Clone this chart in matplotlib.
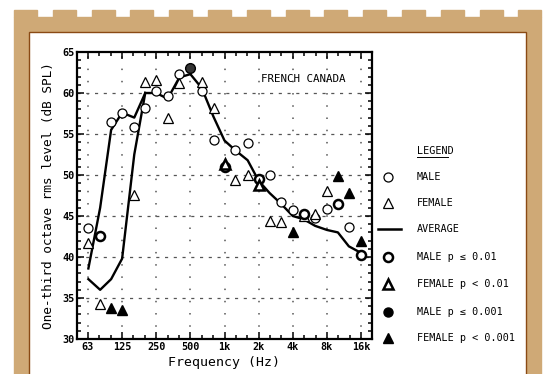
import matplotlib
matplotlib.use("Agg")
import matplotlib.pyplot as plt
from matplotlib.patches import Rectangle
from matplotlib.lines import Line2D
from matplotlib.ticker import FixedLocator, NullFormatter

plt.rcParams["font.family"] = ["DejaVu Sans Mono", "DejaVu Sans"]

# octave band labels
octave_freqs = [62.5, 125, 250, 500, 1000, 2000, 4000, 8000, 16000]
octave_labels = ["63", "125", "250", "500", "1k", "2k", "4k", "8k", "16k"]

# average spectra; the two curves split below 200 Hz
avg_freqs = [200, 250, 315, 400, 500, 630, 800, 1000, 1250, 1600, 2000,
             2500, 3150, 4000, 5000, 6300, 8000, 10000, 12500, 16000]
avg_levels = [60.0, 60.0, 59.3, 61.9, 62.3, 60.6, 57.1, 54.2, 53.0, 51.8, 49.3,
              47.8, 46.5, 45.0, 44.6, 43.8, 43.3, 43.0, 41.3, 40.5]
avg_male_low_freqs = [63, 80, 100, 125, 160, 200]
avg_male_low = [38.6, 46.0, 55.5, 57.6, 57.0, 60.0]
avg_female_low_freqs = [63, 80, 100, 125, 160, 200]
avg_female_low = [37.3, 36.0, 37.3, 39.8, 52.5, 60.0]

# individual band levels
male_freqs = [63, 100, 125, 160, 200, 250, 315, 400, 630, 800, 1250, 1600,
              2500, 3150, 4000, 6300, 8000, 12500]
male_levels = [43.5, 56.5, 57.6, 55.9, 58.2, 60.2, 59.6, 62.3, 60.3, 54.3, 53.0,
               53.9, 50.0, 46.7, 45.7, 44.8, 45.9, 43.6]
female_freqs = [63, 80, 160, 200, 250, 315, 400, 630, 800, 1250, 1600, 2500,
                3150, 5000, 6300, 8000]
female_levels = [41.7, 34.3, 47.6, 61.3, 61.6, 56.9, 61.2, 61.4, 58.2, 49.4, 50.0,
                 44.4, 44.3, 45.0, 45.3, 48.0]
male_p01_freqs = [80, 1000, 2000, 5000, 10000, 16000]
male_p01_levels = [42.6, 51.0, 49.5, 45.3, 46.5, 40.2]
female_p01_freqs = [1000, 2000]
female_p01_levels = [51.4, 48.8]
male_p001_freqs = [500]
male_p001_levels = [63.0]
female_p001_freqs = [100, 125, 4000, 10000, 12500, 16000]
female_p001_levels = [33.8, 33.5, 43.1, 49.9, 47.8, 42.0]

W, H = 546, 374
fig = plt.figure(figsize=(W / 100, H / 100), dpi=100)


def fx(px):
    return px / W


def fy(py):
    return 1 - py / H


tan = "#cfa976"
edge = "#8a4a14"

# paper frame with a notched top edge
fig.patches.append(Rectangle((fx(14), 0), fx(541) - fx(14), fy(17),
                             transform=fig.transFigure, color=tan, zorder=-3))
for k in range(14):
    x0 = 14 + k * 38.8
    fig.patches.append(Rectangle((fx(x0), fy(17)), fx(23), fy(10) - fy(17),
                                 transform=fig.transFigure, color=tan, zorder=-3))
fig.patches.append(Rectangle((fx(29), -0.01), fx(526) - fx(29), fy(32) + 0.01,
                             transform=fig.transFigure, facecolor="white",
                             edgecolor=edge, linewidth=1.0, zorder=-2))

ax = fig.add_axes([fx(77), fy(339), fx(372) - fx(77), fy(52) - fy(339)])
ax.set_zorder(2)
ax.set_facecolor("none")
ax.set_xscale("log", base=2)
ax.set_xlim(50, 20000)
ax.set_ylim(30, 65)

third_octaves = [1000 * 2 ** (n / 3) for n in range(-13, 14)]
ax.xaxis.set_major_locator(FixedLocator(octave_freqs))
ax.xaxis.set_minor_locator(FixedLocator(third_octaves))
ax.xaxis.set_minor_formatter(NullFormatter())
ax.set_xticklabels(octave_labels, fontsize=7.3, fontweight="bold")
ax.set_yticks(range(30, 66, 5))
ax.set_yticks(range(30, 66), minor=True)
ax.set_yticklabels([str(v) for v in range(30, 66, 5)], fontsize=7.3, fontweight="bold")
ax.tick_params(which="both", direction="in", top=True, right=True, width=1.1)
ax.tick_params(which="major", length=5, pad=2)
ax.tick_params(which="minor", length=3)
for s in ax.spines.values():
    s.set_linewidth(1.6)

for v in range(35, 65, 5):
    ax.axhline(v, color="#555555", lw=0.9, ls=(0, (2.5, 4.5)), zorder=1)
for f in octave_freqs:
    ax.axvline(f, color="#555555", lw=1.1, ls=(0, (1, 7)), zorder=1)

ax.plot(avg_freqs, avg_levels, color="black", lw=1.7, zorder=3)
ax.plot(avg_male_low_freqs, avg_male_low, color="black", lw=1.7, zorder=3)
ax.plot(avg_female_low_freqs, avg_female_low, color="black", lw=1.7, zorder=3)

ax.plot(male_freqs, male_levels, ls="none", marker="o", ms=6.5, mfc="white",
        mec="black", mew=0.9, zorder=4)
ax.plot(female_freqs, female_levels, ls="none", marker="^", ms=7, mfc="white",
        mec="black", mew=0.9, zorder=4)
ax.plot(male_p01_freqs, male_p01_levels, ls="none", marker="o", ms=6.5, mfc="white",
        mec="black", mew=1.8, zorder=5)
ax.plot(female_p01_freqs, female_p01_levels, ls="none", marker="^", ms=7, mfc="white",
        mec="black", mew=1.8, zorder=5)
ax.plot(male_p001_freqs, male_p001_levels, ls="none", marker="o", ms=7, mfc="#333333",
        mec="black", zorder=5)
ax.plot(female_p001_freqs, female_p001_levels, ls="none", marker="^", ms=7.5,
        mfc="black", mec="black", zorder=5)

ax.text(0.625, 0.905, "FRENCH CANADA", transform=ax.transAxes, fontsize=7.8,
        ha="left", va="center")
ax.set_xlabel("Frequency (Hz)", fontsize=9.5, labelpad=3)
ax.set_ylabel("One-third octave rms level (dB SPL)", fontsize=9.2, labelpad=5)

# legend drawn by hand to the right of the plot
lx, tx = 388, 417
fig.text(fx(tx), fy(151), "LEGEND", fontsize=7.3, va="center", ha="left")
fig.add_artist(Line2D([fx(tx), fx(tx + 31)], [fy(157), fy(157)], color="black", lw=0.7))
rows = [
    (177, "o", "white", 0.9, "MALE"),
    (203, "^", "white", 0.9, "FEMALE"),
    (229, None, None, None, "AVERAGE"),
    (257, "o", "white", 1.8, "MALE p \u2264 0.01"),
    (284, "^", "white", 1.8, "FEMALE p < 0.01"),
    (312, "o", "black", 1.0, "MALE p \u2264 0.001"),
    (338, "^", "black", 1.0, "FEMALE p < 0.001"),
]
for py, mk, fc, mw, label in rows:
    if mk is None:
        fig.add_artist(Line2D([fx(378), fx(401)], [fy(py), fy(py)], color="black", lw=1.8))
    else:
        fig.add_artist(Line2D([fx(lx)], [fy(py)], ls="none", marker=mk, ms=6.5,
                              mfc=fc, mec="black", mew=mw))
    fig.text(fx(tx), fy(py), label, fontsize=7.3, va="center", ha="left")

fig.savefig("out.png", dpi=100)
